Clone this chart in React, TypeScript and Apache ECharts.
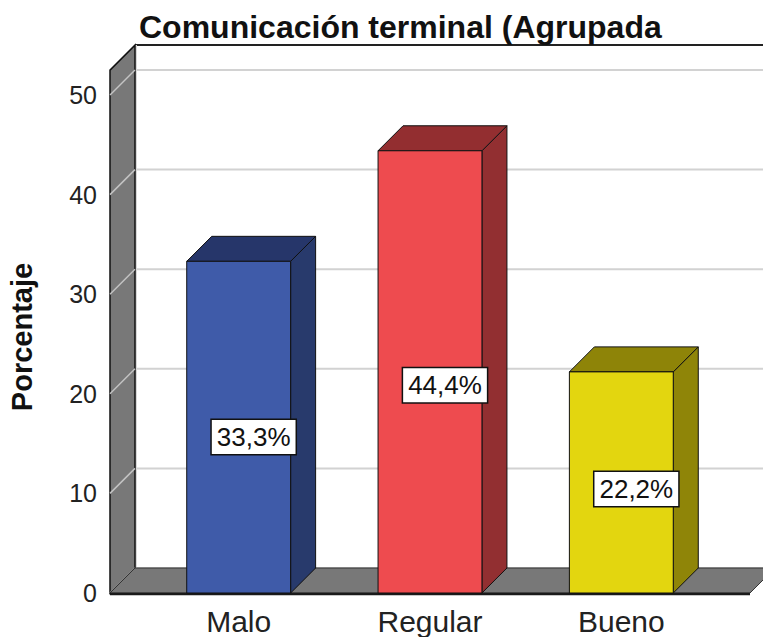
import React, { useEffect, useRef } from "react";
import * as echarts from "echarts";

const TITLE = "Comunicación terminal (Agrupada";
const Y_NAME = "Porcentaje";
const categories = ["Malo", "Regular", "Bueno"];
const values = [33.3, 44.4, 22.2];
const labels = ["33,3%", "44,4%", "22,2%"];
const yTicks = [0, 10, 20, 30, 40, 50];
const FRAME_TOP = 52.5;

const frontColors = ["#3f5ba9", "#ee4b4f", "#e3d60f"];
const topColors = ["#26366a", "#932e30", "#8e8408"];
const sideColors = ["#283a6c", "#922f31", "#8f8508"];

const DEPTH = 25;
const PAD = 33;
const FONT = "'Liberation Sans', Arial, sans-serif";

export default function App() {
  const ref = useRef<HTMLDivElement>(null);
  useEffect(() => {
    if (!ref.current) return;
    const chart = echarts.init(ref.current, null, { renderer: "svg" });
    const option: any = {
      animation: false,
      backgroundColor: "#ffffff",
      title: {
        text: TITLE,
        left: 139,
        top: 11,
        padding: 0,
        textStyle: { fontFamily: FONT, fontSize: 32, fontWeight: "bold", color: "#111" },
      },
      grid: { left: 143, right: 46, top: 95, bottom: 44, outerBoundsMode: "none", containLabel: false },
      xAxis: {
        type: "category",
        data: categories,
        axisLine: { show: false },
        axisTick: { show: false },
        splitLine: { show: false },
        axisLabel: { fontFamily: FONT, fontSize: 30, color: "#222", margin: 13 },
      },
      yAxis: {
        type: "value",
        min: 0,
        max: 50,
        interval: 10,
        name: Y_NAME,
        nameLocation: "middle",
        nameRotate: 90,
        nameGap: 107,
        nameTextStyle: { fontFamily: FONT, fontSize: 29, fontWeight: "bold", color: "#111", padding: [0, 0, 0, 14] },
        axisLine: { show: false },
        axisTick: { show: false },
        splitLine: { show: false },
        axisLabel: { fontFamily: FONT, fontSize: 25, color: "#222", margin: 46 },
      },
      series: [
        {
          type: "custom",
          name: "frame",
          silent: true,
          z: 1,
          data: [[0, 0]],
          renderItem: (params: any, api: any) => {
            const cs = params.coordSys;
            const x0 = cs.x - PAD;
            const x1 = cs.x + cs.width + PAD;
            const yOf = (v: number) => api.coord([0, v])[1];
            const y0 = yOf(0);
            const yT = yOf(FRAME_TOP);
            const D = DEPTH;
            const children: any[] = [];
            yTicks.forEach((v) => {
              const y = yOf(v);
              children.push({
                type: "line",
                shape: { x1: x0 + D, y1: y - D, x2: x1 + D + 50, y2: y - D },
                style: { stroke: "#d2d2d2", lineWidth: 2 },
              });
            });
            children.push({
              type: "line",
              shape: { x1: x0 + D, y1: yT - D, x2: x1 + D + 50, y2: yT - D },
              style: { stroke: "#222", lineWidth: 2 },
            });
            children.push({
              type: "line",
              shape: { x1: x0 + D + 1, y1: yT - D, x2: x0 + D + 1, y2: y0 - D },
              style: { stroke: "#d8d8d8", lineWidth: 2 },
            });
            children.push({
              type: "polygon",
              shape: { points: [[x0, y0], [x0, yT], [x0 + D, yT - D], [x0 + D, y0 - D]] },
              style: { fill: "#787878", stroke: "#111", lineWidth: 1.5 },
            });
            yTicks.forEach((v) => {
              const y = yOf(v);
              children.push({
                type: "line",
                shape: { x1: x0, y1: y, x2: x0 + D, y2: y - D },
                style: { stroke: "#c4c4c4", lineWidth: 1.5 },
              });
            });
            children.push({
              type: "polygon",
              shape: { points: [[x0, y0], [x0 + D, y0 - D], [x1 + D, y0 - D], [x1, y0]] },
              style: { fill: "#787878", stroke: "#333", lineWidth: 1 },
            });
            children.push({
              type: "line",
              shape: { x1: x0, y1: y0 + 1, x2: x1, y2: y0 + 1 },
              style: { stroke: "#1a1a1a", lineWidth: 2.5 },
            });
            return { type: "group", children };
          },
        },
        {
          type: "custom",
          name: "Porcentaje",
          z: 2,
          data: values.map((v, i) => [i, v]),
          renderItem: (params: any, api: any) => {
            const i = params.dataIndex;
            const xv = api.value(0);
            const v = api.value(1);
            const top = api.coord([xv, v]);
            const base = api.coord([xv, 0]);
            const w = api.size([1, 0])[0] * 0.543;
            const D = DEPTH;
            const cx = top[0];
            const l = cx - w / 2;
            const r = cx + w / 2;
            const ty = top[1];
            const by = base[1];
            const lp = api.coord([xv, v * 0.47]);
            return {
              type: "group",
              children: [
                {
                  type: "polygon",
                  shape: { points: [[r, ty], [r + D, ty - D], [r + D, by - D], [r, by]] },
                  style: { fill: sideColors[i], stroke: "#111", lineWidth: 1 },
                },
                {
                  type: "polygon",
                  shape: { points: [[l, ty], [l + D, ty - D], [r + D, ty - D], [r, ty]] },
                  style: { fill: topColors[i], stroke: "#111", lineWidth: 1 },
                },
                {
                  type: "rect",
                  shape: { x: l, y: ty, width: w, height: by - ty },
                  style: { fill: frontColors[i], stroke: "#111", lineWidth: 1 },
                },
                {
                  type: "text",
                  x: lp[0] + 15,
                  y: lp[1],
                  style: {
                    text: labels[i],
                    fontFamily: FONT,
                    fontSize: 26,
                    fill: "#111",
                    align: "center",
                    verticalAlign: "middle",
                    backgroundColor: "#ffffff",
                    borderColor: "#111",
                    borderWidth: 1.5,
                    padding: [4, 5, 4, 5],
                  },
                },
              ],
            };
          },
        },
      ],
    };
    chart.setOption(option);
    return () => chart.dispose();
  }, []);
  return <div ref={ref} style={{ width: 763, height: 637, position: "absolute", left: 0, top: 0 }} />;
}
